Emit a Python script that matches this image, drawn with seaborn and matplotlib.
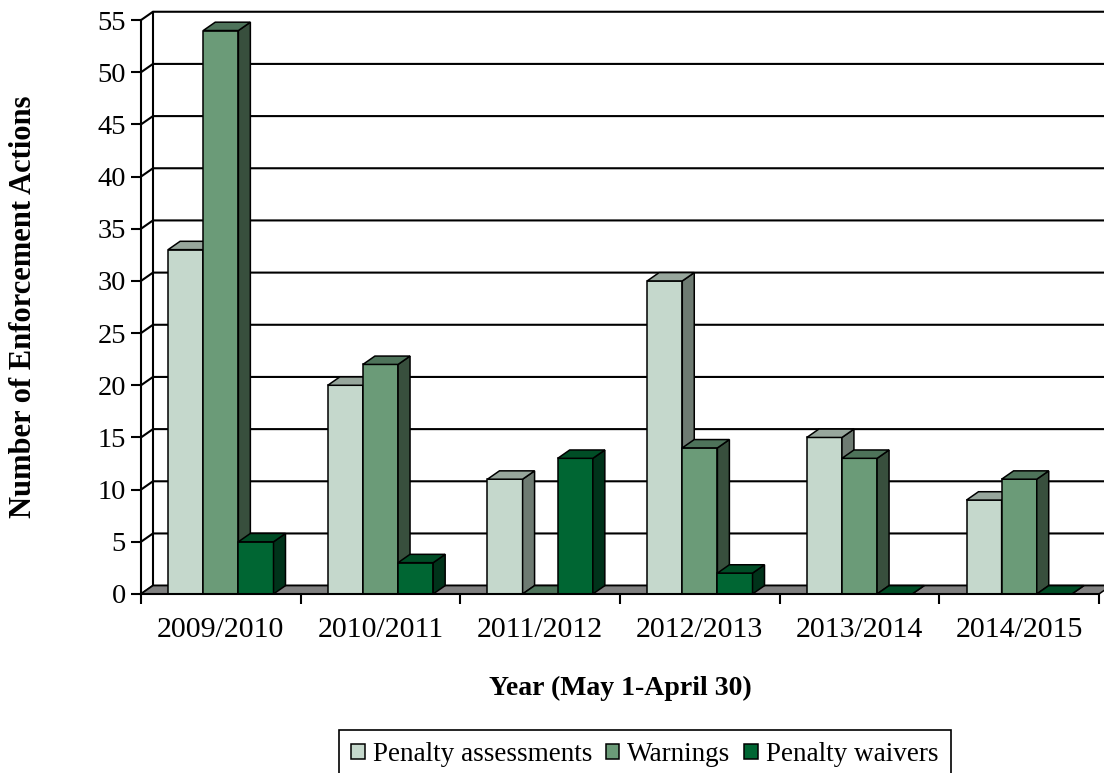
import numpy as np
import pandas as pd
import matplotlib.pyplot as plt
import seaborn as sns
from matplotlib.patches import Polygon, Patch

# Data
years = ['2009/2010', '2010/2011', '2011/2012', '2012/2013', '2013/2014', '2014/2015']
penalty_assessments = [33, 20, 11, 30, 15, 9]
warnings = [54, 22, 0, 14, 13, 11]
penalty_waivers = [5, 3, 13, 2, 0, 0]
series_names = ['Penalty assessments', 'Warnings', 'Penalty waivers']
y_ticks = list(range(0, 56, 5))

# face colours: front, top, side
front_colors = ['#C5D8CC', '#6B9B78', '#006633']
top_colors = ['#97A69C', '#4E735A', '#004D26']
side_colors = ['#6E7B72', '#384F3D', '#00331A']

DX, DY = 0.075, 0.8  # 3-D depth offset in data units

plt.rcParams['font.family'] = ['Liberation Serif', 'DejaVu Serif']


def build_frame():
    df = pd.DataFrame({
        'Year': years * 3,
        'Count': penalty_assessments + warnings + penalty_waivers,
        'Type': [n for n in series_names for _ in years],
    })
    return df


def draw_walls(ax):
    # floor
    ax.add_patch(Polygon([(-0.5, 0), (5.5, 0), (5.5 + DX, DY), (-0.5 + DX, DY)],
                         closed=True, fc='#808080', ec='black', lw=1.1,
                         zorder=2, clip_on=False))
    # back gridlines with diagonal connectors to the front axis
    for y in y_ticks:
        ax.plot([-0.5, -0.5 + DX, 7], [y, y + DY, y + DY], color='black',
                lw=1.5, zorder=1, clip_on=False, solid_capstyle='butt')
    # back wall edge
    ax.plot([-0.5 + DX, -0.5 + DX], [DY, 55 + DY], color='black', lw=1.5,
            zorder=1, clip_on=False)


def add_depth(ax):
    for k, cont in enumerate(ax.containers):
        for bar in cont:
            x0, w, h = bar.get_x(), bar.get_width(), bar.get_height()
            bar.set_zorder(3 + k)
            ax.add_patch(Polygon([(x0 + w, 0), (x0 + w + DX, DY),
                                  (x0 + w + DX, h + DY), (x0 + w, h)],
                                 closed=True, fc=side_colors[k], ec='black',
                                 lw=1.1, zorder=3.5 + k, clip_on=False))
            ax.add_patch(Polygon([(x0, h), (x0 + w, h), (x0 + w + DX, h + DY),
                                  (x0 + DX, h + DY)],
                                 closed=True, fc=top_colors[k], ec='black',
                                 lw=1.1, zorder=3.5 + k, clip_on=False))


def main():
    df = build_frame()
    fig, ax = plt.subplots(figsize=(11.04, 7.73), dpi=100)
    fig.subplots_adjust(left=0.1277, right=0.9955, bottom=0.2316, top=0.974)

    sns.barplot(data=df, x='Year', y='Count', hue='Type', hue_order=series_names,
                palette=front_colors, saturation=1, width=0.66,
                edgecolor='black', linewidth=1.1, legend=False, ax=ax)
    ax.set_xlim(-0.5, 5.5)
    ax.set_ylim(0, 55)

    draw_walls(ax)
    add_depth(ax)

    # axes / ticks
    for s in ['top', 'right']:
        ax.spines[s].set_visible(False)
    ax.spines['left'].set_bounds(0, 55)
    ax.spines['bottom'].set_bounds(-0.5, 5.5)
    for s in ['left', 'bottom']:
        ax.spines[s].set_linewidth(1.5)
        ax.spines[s].set_color('black')
        ax.spines[s].set_zorder(10)

    ax.set_xticks(np.arange(-0.5, 6, 1))
    ax.set_xticklabels([])
    ax.set_xticks(range(len(years)), minor=True)
    ax.set_xticklabels(years, minor=True)
    ax.tick_params(axis='x', which='major', length=7.2, width=1.5, direction='out')
    ax.tick_params(axis='x', which='minor', length=0, pad=16.5, labelsize=21.5)
    ax.set_yticks(y_ticks)
    ax.tick_params(axis='y', length=7.2, width=1.5, pad=3.6, labelsize=20.5)

    ax.set_xlabel('Year (May 1-April 30)', fontsize=20, fontweight='bold')
    ax.xaxis.set_label_coords(0.5, -0.143)
    ax.set_ylabel('Number of Enforcement Actions', fontsize=22, fontweight='bold')
    ax.yaxis.set_label_coords(-0.1075, 0.5)

    handles = [Patch(fc=c, ec='black', lw=1.1) for c in front_colors]
    leg = fig.legend(handles, series_names, loc='upper left',
                     bbox_to_anchor=(339 / 1104, 1 - 730 / 773), ncol=3,
                     frameon=True, fancybox=False, edgecolor='black',
                     framealpha=1, fontsize=19.5, handlelength=0.5,
                     handleheight=0.5, handletextpad=0.3, columnspacing=0.5,
                     borderpad=0.45, borderaxespad=0)
    leg.get_frame().set_linewidth(1.2)

    fig.savefig('out.png', dpi=100)


if __name__ == '__main__':
    main()
